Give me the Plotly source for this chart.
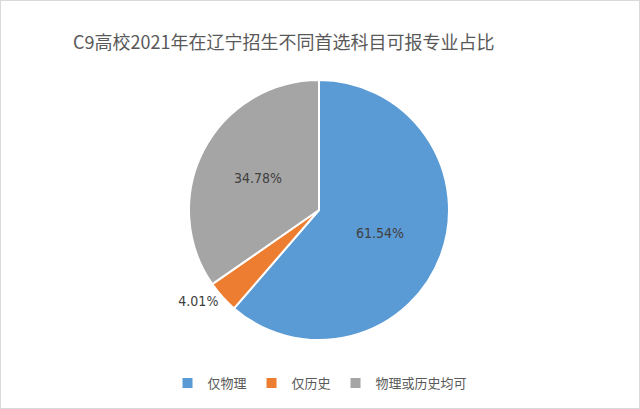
import plotly.graph_objects as go

labels = ["仅物理", "仅历史", "物理或历史均可"]
values = [61.54, 4.01, 34.78]
colors = ["#5B9BD5", "#ED7D31", "#A5A5A5"]
text_pos = ["inside", "outside", "inside"]

W, H = 640, 409
fig = go.Figure(go.Pie(
    labels=labels,
    values=values,
    sort=False,
    direction="clockwise",
    rotation=0,
    marker=dict(colors=colors, line=dict(color="white", width=2)),
    texttemplate="%{value:.2f}%",
    textposition=text_pos,
    insidetextorientation="horizontal",
    textfont=dict(family="DejaVu Sans Condensed, Liberation Sans", size=14, color="#404040"),
    domain=dict(x=[189 / W, 449 / W], y=[1 - 340 / H, 1 - 80 / H]),
    hoverinfo="label+percent",
))

fig.update_layout(
    width=W, height=H,
    margin=dict(l=0, r=0, t=0, b=0),
    paper_bgcolor="white",
    title=dict(
        text="C9高校2021年在辽宁招生不同首选科目可报专业占比",
        x=73 / W, xanchor="left", y=1 - 43 / H, yanchor="middle",
        font=dict(family="Noto Sans CJK SC", size=18, color="#595959"),
    ),
    legend=dict(
        orientation="h", x=0.5, xanchor="center", y=1 - 383 / H, yanchor="middle",
        font=dict(family="Noto Sans CJK SC", size=13, color="#595959"),
        itemsizing="constant", itemwidth=30,
    ),
    shapes=[dict(type="rect", xref="paper", yref="paper", x0=0, y0=0, x1=1, y1=1,
                 line=dict(color="#D9D9D9", width=2))],
)

fig.write_html("out.html", config={"displayModeBar": False},
               post_script="document.body.style.margin='0';document.body.style.overflow='hidden';")
